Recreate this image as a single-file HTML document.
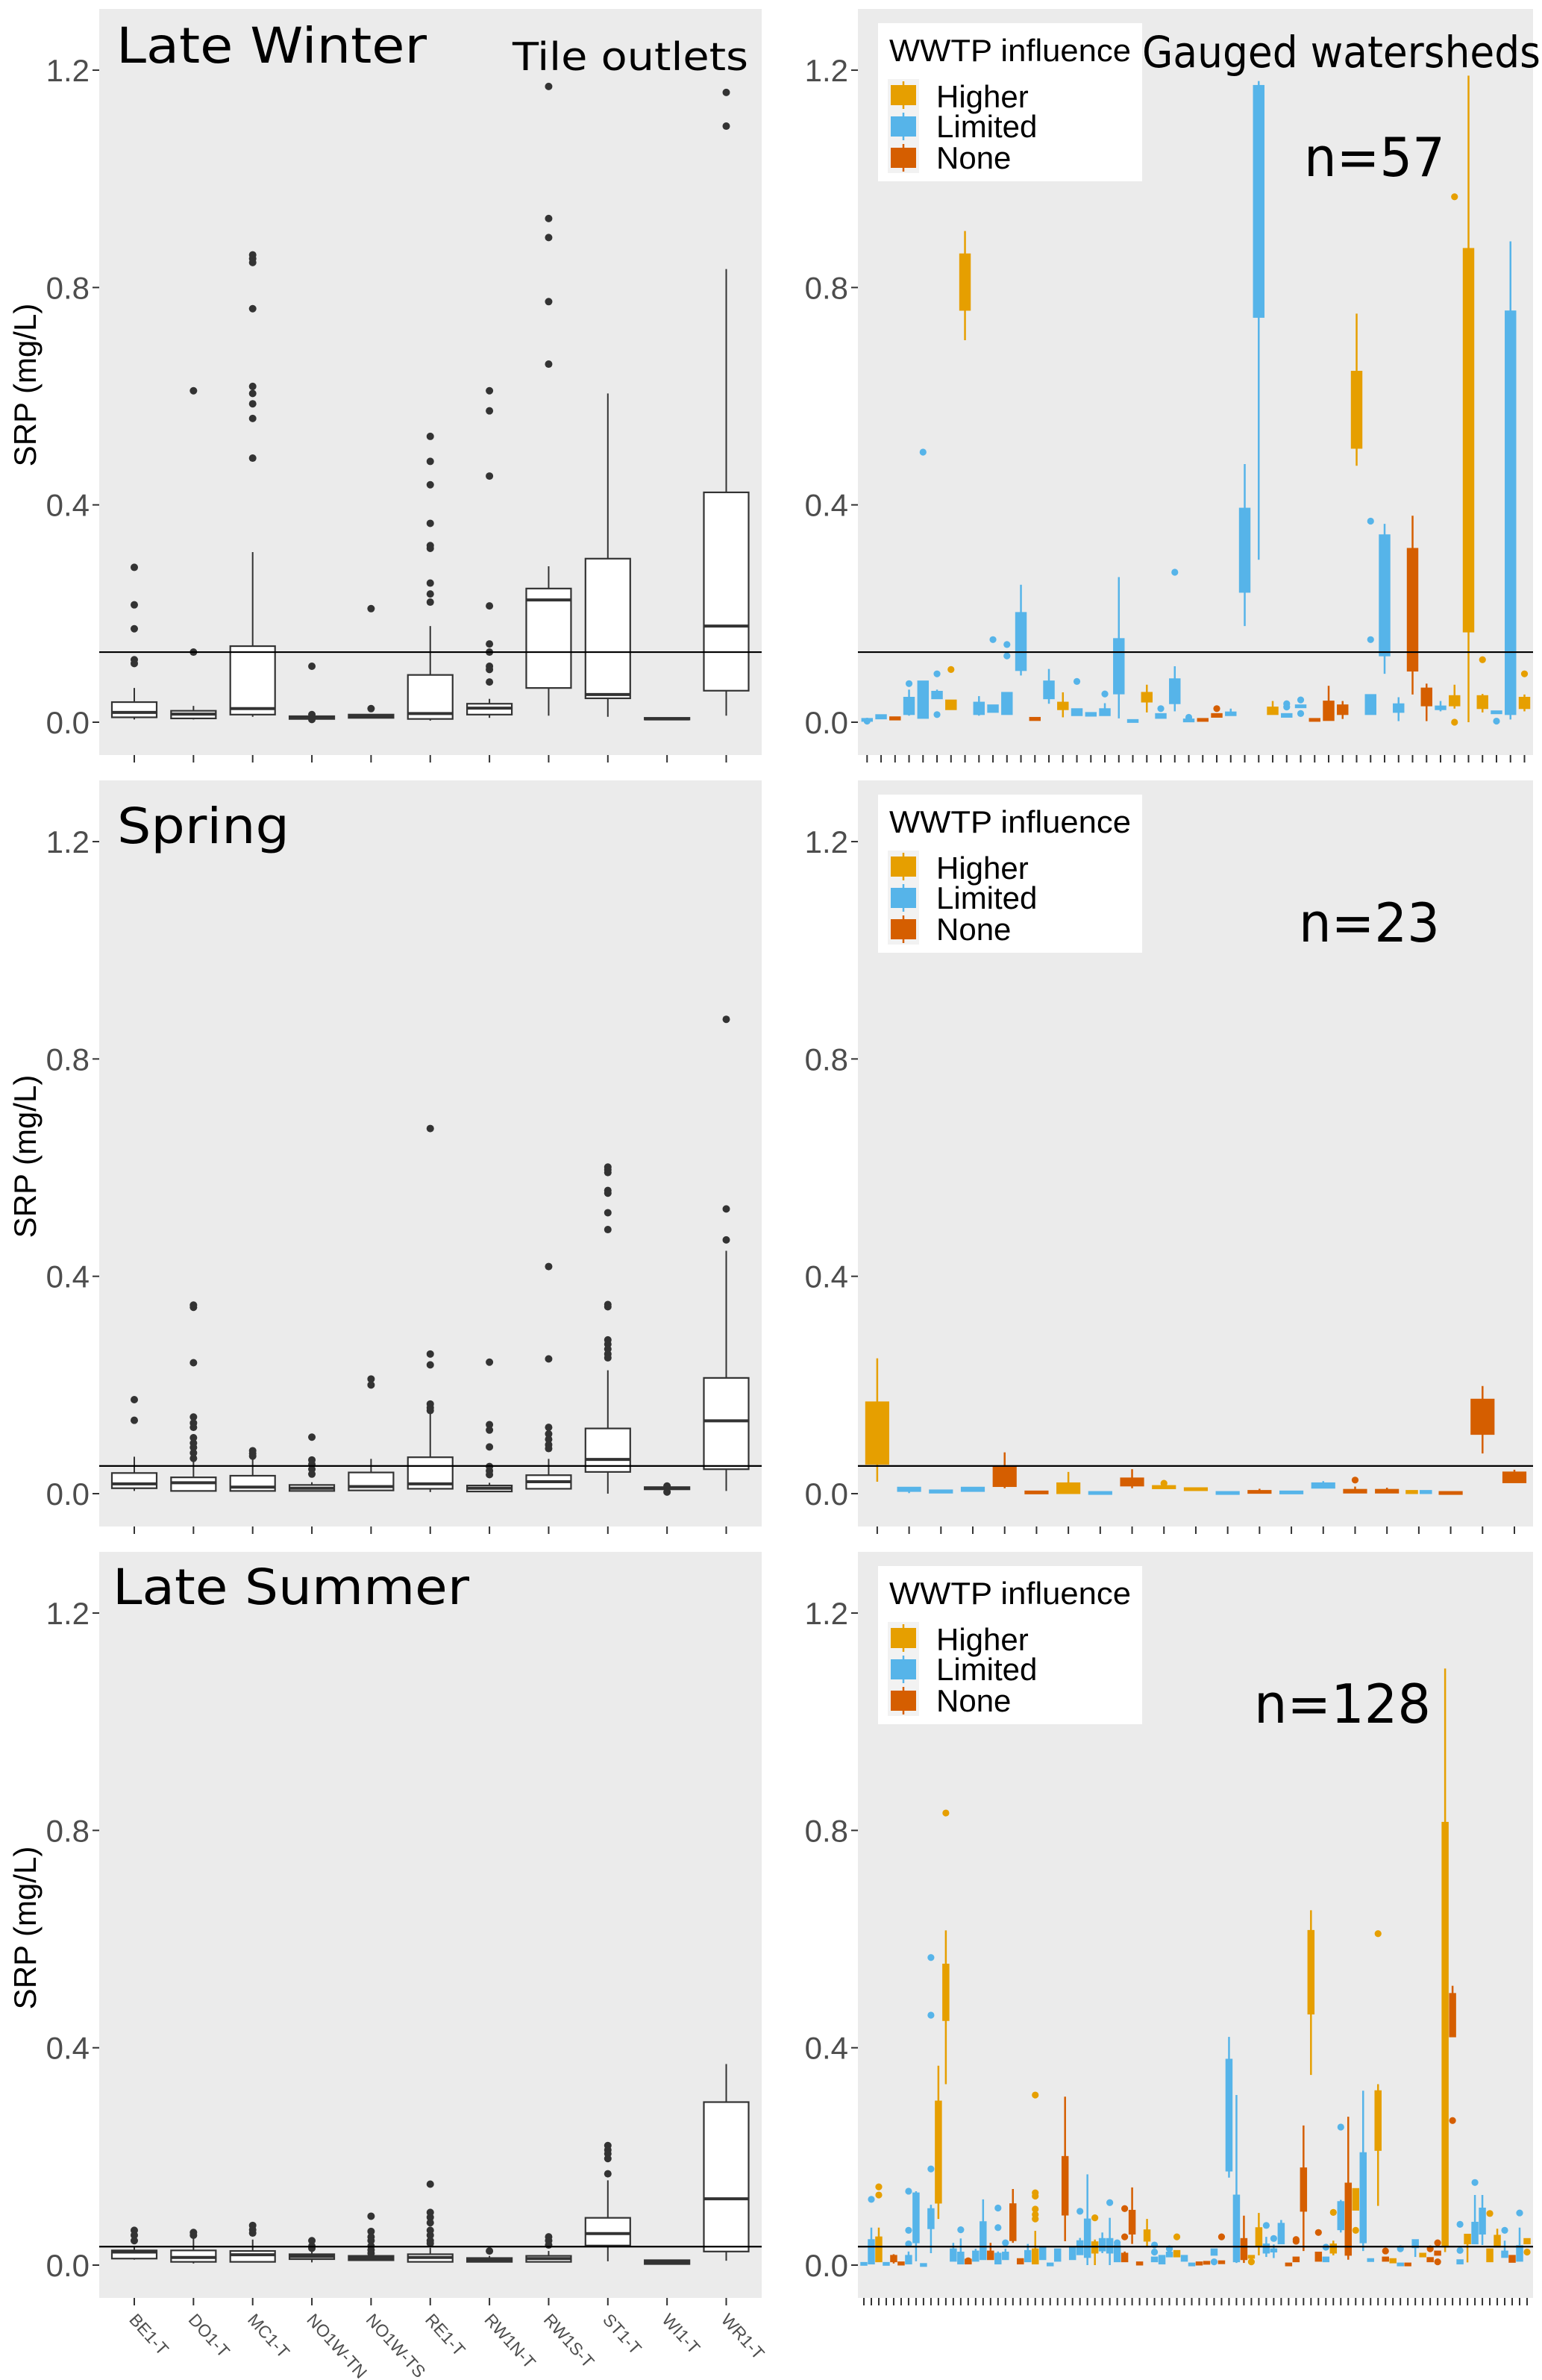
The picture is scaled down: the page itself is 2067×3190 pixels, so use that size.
<!DOCTYPE html>
<html><head><meta charset="utf-8"><title>SRP by season</title>
<style>html,body{margin:0;padding:0;background:#fff}svg{display:block}</style></head>
<body>
<svg id="chart" xmlns="http://www.w3.org/2000/svg" width="2067" height="3190" viewBox="0 0 2067 3190"></svg>
<script>
// ---------- data ----------
const seasons = ["Late Winter", "Spring", "Late Summer"];
const tileSites = ["BE1-T","DO1-T","MC1-T","NO1W-TN","NO1W-TS","RE1-T","RW1N-T","RW1S-T","ST1-T","WI1-T","WR1-T"];
const yTicks = [0.0, 0.4, 0.8, 1.2];
const yTickLabels = ["0.0","0.4","0.8","1.2"];
const refLine = [0.129, 0.051, 0.034];
const nLabels = ["n=57","n=23","n=128"];

// tile outlets: [lo, q1, med, q3, hi]
const tileW_lo  = [.005,.005,.01,.006,.008,.003,.008,.012,.01,.005,.012];
const tileW_q1  = [.009,.007,.014,.006,.008,.006,.014,.063,.044,.005,.058];
const tileW_med = [.018,.015,.025,.008,.011,.016,.026,.225,.051,.006,.177];
const tileW_q3  = [.037,.021,.14,.011,.014,.087,.034,.246,.301,.008,.423];
const tileW_hi  = [.063,.03,.313,.011,.014,.177,.043,.287,.605,.008,.834];
const tileW_out = [[.285,.216,.172,.115,.108],[.61,.129],[.86,.853,.846,.761,.618,.605,.586,.559,.486],[.103,.014,.005],[.209,.025],[.526,.48,.437,.366,.325,.32,.256,.236,.221],[.61,.573,.453,.214,.144,.129,.103,.097,.074],[1.17,.927,.892,.774,.659],[],[],[1.159,1.097]];

const tileS_lo  = [.005,.005,.005,.005,.006,.003,.004,.009,0,.008,.005];
const tileS_q1  = [.01,.005,.005,.005,.006,.009,.004,.009,.04,.008,.045];
const tileS_med = [.018,.02,.012,.01,.013,.018,.01,.022,.063,.01,.134];
const tileS_q3  = [.038,.03,.033,.016,.039,.067,.015,.034,.12,.012,.213];
const tileS_hi  = [.068,.065,.065,.021,.064,.16,.02,.064,.227,.012,.447];
const tileS_out = [[.173,.135],[.347,.343,.241,.141,.13,.122,.103,.093,.085,.075,.065],[.079,.074,.069],[.104,.062,.054,.045,.036],[.211,.2],[.672,.257,.237,.165,.158,.153],[.242,.127,.117,.086,.05,.042,.035],[.418,.248,.122,.11,.1,.09,.083],[.601,.596,.591,.558,.553,.517,.486,.348,.344,.283,.275,.266,.257,.25],[.014,.003],[.873,.524,.467]];

const tileL_lo  = [.01,.003,.005,.005,.009,.005,.006,.006,.007,.002,.008];
const tileL_q1  = [.012,.006,.006,.011,.009,.006,.006,.006,.036,.002,.025];
const tileL_med = [.024,.014,.019,.016,.013,.014,.009,.012,.058,.005,.122];
const tileL_q3  = [.027,.027,.026,.02,.017,.02,.013,.017,.087,.009,.3];
const tileL_hi  = [.033,.05,.047,.026,.02,.032,.017,.026,.156,.009,.37];
const tileL_out = [[.064,.055,.045],[.06,.055],[.073,.065,.059],[.045,.035,.031],[.09,.062,.052,.045,.035,.028,.022],[.149,.097,.088,.078,.064,.055,.045,.04],[.026],[.052,.045,.037],[.22,.212,.205,.196,.168],[],[]];

// gauged watersheds: group (H=Higher, L=Limited, N=None), lo, q1, q3, hi, outliers
const gW_grp = "LLNLLLHHLLLLNLHLLLLLHLLLNNLLLHLLNNNHLLLNNLHHHLLH";
const gW_lo  = [.002,.006,.004,.012,.007,.043,.023,.703,.012,.018,.014,.086,.003,.034,.009,.012,.011,.012,.007,0,.018,.007,.02,.002,.003,.009,.012,.177,.299,.014,.009,.028,.003,.003,.006,.472,.014,.089,.002,.051,.002,.02,.025,0,.018,.016,.005,.02];
const gW_q1  = [.002,.006,.004,.014,.007,.043,.023,.758,.014,.018,.014,.095,.003,.043,.023,.012,.011,.012,.052,0,.037,.007,.034,.002,.003,.009,.012,.239,.745,.014,.009,.028,.003,.003,.014,.504,.014,.122,.018,.094,.03,.023,.03,.166,.025,.016,.014,.025];
const gW_q3  = [.007,.014,.01,.046,.076,.057,.041,.862,.037,.032,.055,.202,.009,.076,.037,.025,.018,.025,.154,.005,.055,.016,.08,.006,.007,.016,.019,.394,1.172,.028,.016,.032,.007,.039,.032,.646,.051,.345,.034,.32,.063,.03,.049,.872,.049,.021,.757,.046];
const gW_hi  = [.007,.014,.01,.06,.076,.06,.041,.904,.048,.032,.055,.253,.009,.098,.055,.025,.018,.035,.267,.005,.069,.016,.103,.006,.007,.016,.025,.475,1.18,.039,.016,.032,.007,.067,.039,.752,.051,.365,.046,.38,.071,.039,.069,1.19,.052,.021,.885,.051];
const gW_out = [[.002],[],[],[.071],[.497],[.089,.014],[.097],[],[],[.152],[.143,.122],[],[],[],[],[.075],[],[.052],[],[],[],[.025],[.276],[.009],[],[.025],[],[],[],[],[.034,.028],[.041,.016],[],[],[],[],[.37,.152],[],[],[],[],[],[.967,0],[],[.115],[.002],[],[.089]];

const gS_grp = "HLLLNNHLNHHLNLLNNHLNNN";
const gS_slot = [0,1,2,3,4,5,6,7,8,9,10,11,12,13,14,15,16,16.78,17.22,18,19,20];
const gS_lo  = [.022,.001,.001,.004,.01,.001,0,0,.01,.009,.006,0,.001,0,.01,.001,.001,0,0,0,.074,.02];
const gS_q1  = [.054,.004,.001,.004,.013,.001,0,0,.014,.009,.006,0,.001,0,.01,.001,.001,0,0,0,.109,.02];
const gS_q3  = [.169,.012,.007,.012,.05,.005,.02,.004,.029,.015,.011,.004,.006,.005,.02,.008,.008,.006,.006,.004,.174,.04];
const gS_hi  = [.249,.012,.007,.012,.076,.005,.04,.004,.045,.015,.011,.004,.009,.005,.023,.013,.011,.006,.006,.004,.198,.044];
const gS_out = [[],[],[],[],[],[],[],[],[],[.019],[],[],[],[],[],[.025],[],[],[],[],[],[]];

const gL_grp = "LLHLNNLLLLHHLLNLLNLLNNLHLLLNLLLHLLLNNNHLLLHLLNNLNLLNHHLLLNNNHNLHLNHLLHNHLNLHNNHNLHLLHHLNLH";
const gL_lo  = [0,.002,.006,.002,.003,0,.002,.007,0,.022,.085,.333,.007,.002,.002,.007,.01,.01,.002,.01,.041,.002,.006,.002,.01,.002,.007,.044,.01,.019,0,0,.022,0,.006,.006,.039,0,.033,.006,.002,.015,.015,.007,0,0,.002,.018,.003,.161,.004,.004,.014,.018,.015,.013,.039,0,.006,.026,.35,.007,.006,.018,.06,.01,.101,.026,.007,.109,.007,.004,.002,0,.015,.015,.006,.018,.024,.42,.002,.005,.039,.037,.006,.033,.014,.005,.007,.039];
const gL_q1  = [0,.002,.006,.002,.006,0,.002,.041,0,.067,.114,.45,.007,.002,.002,.007,.01,.01,.002,.01,.045,.002,.006,.002,.01,.002,.007,.092,.01,.019,.014,.022,.026,.022,.006,.006,.057,0,.044,.006,.002,.015,.015,.007,0,0,.002,.018,.003,.173,.006,.01,.014,.036,.022,.024,.039,0,.006,.099,.462,.007,.006,.022,.065,.018,.101,.041,.007,.211,.007,.004,.002,0,.032,.015,.006,.018,.033,.42,.002,.039,.039,.057,.006,.033,.014,.005,.007,.039];
const gL_q3  = [.005,.047,.052,.005,.018,.006,.018,.133,.003,.104,.302,.554,.03,.024,.011,.026,.08,.026,.022,.024,.113,.012,.027,.03,.033,.004,.03,.2,.033,.045,.085,.043,.049,.049,.037,.022,.101,.006,.065,.015,.018,.024,.027,.018,.004,.006,.007,.03,.008,.379,.129,.049,.018,.069,.039,.03,.077,.004,.015,.179,.616,.024,.015,.039,.117,.151,.141,.207,.012,.321,.015,.012,.004,.004,.047,.022,.014,.026,.815,.5,.01,.057,.079,.105,.03,.055,.026,.018,.036,.049];
const gL_hi  = [.005,.069,.069,.005,.02,.006,.025,.136,.003,.111,.367,.616,.041,.049,.011,.03,.121,.041,.025,.03,.14,.012,.039,.063,.035,.004,.03,.31,.033,.05,.167,.047,.06,.087,.037,.025,.143,.006,.085,.015,.018,.024,.027,.018,.004,.006,.007,.03,.008,.42,.313,.091,.018,.096,.052,.038,.083,.004,.015,.257,.653,.024,.015,.045,.12,.273,.141,.321,.012,.333,.015,.012,.004,.004,.047,.022,.014,.026,1.098,.514,.01,.057,.129,.129,.03,.067,.045,.018,.069,.049];
const gL_out = [[],[.121],[.144,.129],[],[],[],[.064,.039,.136],[],[],[.566,.46,.177],[],[.832],[],[.065],[.008],[],[],[],[.105,.069],[.041],[],[],[],[.313,.133,.127,.103,.093,.085],[],[],[],[],[],[.099],[],[.087],[],[.115],[.041],[.104,.052],[],[],[],[.037,.024],[],[.03],[.052],[],[],[],[],[.006],[.052],[],[],[],[.006],[],[.073],[.049],[],[],[.044,.047],[],[],[.06],[.033],[.097],[.254],[],[.064],[],[],[.61],[.026],[],[.03],[],[],[],[.03],[.041,.006],[],[.266],[.075,.027],[],[.152],[],[.095],[],[.064],[],[.096],[.024]];

// ---------- layout ----------
const NS = "http://www.w3.org/2000/svg";
const svg = document.getElementById("chart");
const ROW = 1034, ZERO = 968, PER = 728.3;
const LX0 = 133, LX1 = 1021, RX0 = 1150, RX1 = 2055;
const COLORS = {H:"#E69F00", L:"#56B4E9", N:"#D55E00"};
function mk(tag, attrs, parent){ const e=document.createElementNS(NS,tag); for(const k in attrs) e.setAttribute(k,attrs[k]); (parent||svg).appendChild(e); return e; }
function yScale(v,r){ return ZERO + r*ROW - v*PER; }
function tileX(i){ return 180 + i*79.35; }

for (let r=0;r<3;r++){
  const top = 12 + r*ROW, bot = top + 1000;
  const g = mk("g",{});
  
  
  ["left","right"].forEach(side=>{
    const x0 = side==="left"?LX0:RX0, x1 = side==="left"?LX1:RX1;
    const bg = mk("rect",{x:x0,y:top,width:x1-x0,height:bot-top,fill:"#ebebeb"},g);
    
    
    yTicks.forEach((t,k)=>{
      const yy = yScale(t,r);
      const tk = mk("line",{x1:x0-9,x2:x0,y1:yy,y2:yy,stroke:"#333","stroke-width":2},g);
      
      
      const lb = mk("text",{x:x0-13,y:yy+15,"text-anchor":"end","font-family":"Liberation Sans, sans-serif","font-size":42,fill:"#4d4d4d"},g);
      lb.textContent = yTickLabels[k];
      
      
    });
  });
  const yt = mk("text",{x:0,y:0,transform:`translate(48,${516+r*ROW}) rotate(-90)`,"text-anchor":"middle","font-family":"Liberation Sans, sans-serif","font-size":42,fill:"#000"},g);
  yt.textContent = "SRP (mg/L)";
  
  

  // tile boxplots
  const T = [[tileW_lo,tileW_q1,tileW_med,tileW_q3,tileW_hi,tileW_out],[tileS_lo,tileS_q1,tileS_med,tileS_q3,tileS_hi,tileS_out],[tileL_lo,tileL_q1,tileL_med,tileL_q3,tileL_hi,tileL_out]][r];
  tileSites.forEach((s,i)=>{
    const cx = tileX(i), hw = 30;
    const tk = mk("line",{x1:cx,x2:cx,y1:bot,y2:bot+10,stroke:"#333","stroke-width":2},g);
    
    
    const bx = mk("g",{},g);
    
    
    mk("line",{x1:cx,x2:cx,y1:yScale(T[4][i],r),y2:yScale(T[0][i],r),stroke:"#333","stroke-width":2},bx);
    const q3y = yScale(T[3][i],r), q1y = yScale(T[1][i],r);
    mk("rect",{x:cx-hw,y:q3y,width:2*hw,height:Math.max(q1y-q3y,2),fill:"#fff",stroke:"#333","stroke-width":2.2},bx);
    mk("line",{x1:cx-hw,x2:cx+hw,y1:yScale(T[2][i],r),y2:yScale(T[2][i],r),stroke:"#333","stroke-width":4},bx);
    T[5][i].forEach(v=>{
      const c = mk("circle",{cx:cx,cy:yScale(v,r),r:5,fill:"#333"},bx);
      
      
    });
    if (r===2){
      const lb = mk("text",{x:0,y:0,transform:`translate(${cx-8},${3110}) rotate(48)`,"font-family":"Liberation Sans, sans-serif","font-size":23,fill:"#4d4d4d"},g);
      lb.textContent = s;
      
      
    }
  });
  const rl = mk("line",{x1:LX0,x2:LX1,y1:yScale(refLine[r],r),y2:yScale(refLine[r],r),stroke:"#000","stroke-width":2.2},g);
  
  

  // watershed boxplots
  const W = [[gW_grp,gW_lo,gW_q1,gW_q3,gW_hi,gW_out,null],[gS_grp,gS_lo,gS_q1,gS_q3,gS_hi,gS_out,gS_slot],[gL_grp,gL_lo,gL_q1,gL_q3,gL_hi,gL_out,null]][r];
  const n = W[1].length;
  const nSlots = W[6] ? 21 : n;
  const first = [1162.3,1175.9,1158][r], last = [2043.5,2030,2047][r];
  const step = (last-first)/(nSlots-1);
  const bw = step*[0.77,0.73,0.85][r];
  for (let k=0;k<nSlots;k++){
    const tx = first + k*step;
    const tk = mk("line",{x1:tx,x2:tx,y1:bot,y2:bot+10,stroke:"#333","stroke-width":2},g);
    
    
  }
  for (let i=0;i<n;i++){
    const slot = W[6] ? W[6][i] : i;
    const split = W[6] && slot%1!==0;
    const cx = first + slot*step, hw = (split?bw/2:bw)/2;
    const col = COLORS[W[0][i]];
    const bx = mk("g",{},g);
    
    
    mk("line",{x1:cx,x2:cx,y1:yScale(W[4][i],r),y2:yScale(W[1][i],r),stroke:col,"stroke-width":2.5},bx);
    const q3y=yScale(W[3][i],r), q1y=yScale(W[2][i],r);
    mk("rect",{x:cx-hw,y:q3y,width:2*hw,height:Math.max(q1y-q3y,4),fill:col,stroke:col,"stroke-width":1},bx);
    W[5][i].forEach(v=>{
      const c = mk("circle",{cx:cx,cy:yScale(v,r),r:4.6,fill:col},bx);
      
      
    });
  }
  const rl2 = mk("line",{x1:RX0,x2:RX1,y1:yScale(refLine[r],r),y2:yScale(refLine[r],r),stroke:"#000","stroke-width":2.2},g);
  
  

  // legend
  const off = r*ROW;
  const lg = mk("g",{},g);
  
  
  mk("rect",{x:1177,y:31+off,width:354,height:212,fill:"#fff"},lg);
  const lt = mk("text",{x:1192,y:82+off,"font-family":"Liberation Sans, sans-serif","font-size":42,textLength:324,lengthAdjust:"spacingAndGlyphs"},lg);
  lt.textContent = "WWTP influence";
  
  
  mk("rect",{x:1190,y:106+off,width:42,height:126,fill:"#f2f2f2"},lg);
  [["H","Higher",114,144],["L","Limited",156,184],["N","None",198,226]].forEach(([k,name,ky,by])=>{
    const e = mk("g",{},lg);
    
    
    mk("line",{x1:1211,x2:1211,y1:ky-5+off,y2:ky+32+off,stroke:COLORS[k],"stroke-width":2.5},e);
    mk("rect",{x:1194,y:ky+off,width:34,height:27,fill:COLORS[k]},e);
    const t = mk("text",{x:1255,y:by+off,"font-family":"Liberation Sans, sans-serif","font-size":42},e);
    t.textContent = name;
  });

  // annotations
  const titlePos = [[156,84,416],[157,1130,231],[151,2150,478]][r];
  const st = mk("text",{x:titlePos[0],y:titlePos[1],"font-family":"DejaVu Sans, sans-serif","font-size":66,textLength:titlePos[2],lengthAdjust:"spacingAndGlyphs"},g);
  st.textContent = seasons[r];
  
  
  const nPos = [[1748,236,189],[1741,1262,189],[1681,2309,237]][r];
  const nt = mk("text",{x:nPos[0],y:nPos[1],"font-family":"DejaVu Sans, sans-serif","font-size":72,textLength:nPos[2],lengthAdjust:"spacingAndGlyphs"},g);
  nt.textContent = nLabels[r];
  
  
}
const t1 = mk("text",{x:687,y:94,"font-family":"DejaVu Sans, sans-serif","font-size":52,textLength:316,lengthAdjust:"spacingAndGlyphs"});
t1.textContent = "Tile outlets";


const t2 = mk("text",{x:1531,y:90,"font-family":"DejaVu Sans, sans-serif","font-size":58,textLength:534,lengthAdjust:"spacingAndGlyphs"});
t2.textContent = "Gauged watersheds";


</script>
</body></html>
